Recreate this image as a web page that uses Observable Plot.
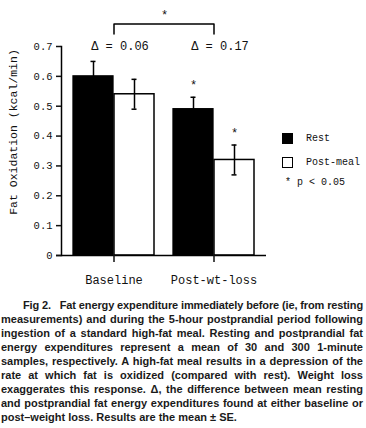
<!DOCTYPE html>
<html><head><meta charset="utf-8">
<script src="https://cdn.jsdelivr.net/npm/d3@7"></script>
<script src="https://cdn.jsdelivr.net/npm/@observablehq/plot@0.6"></script>
<style>
body{margin:0;background:#fff;}
#wrap{position:relative;width:366px;height:428px;overflow:hidden;background:#fff;}
#chart{position:absolute;left:0;top:0;}
.leg{position:absolute;font-family:"Liberation Mono",monospace;font-size:10px;color:#111;line-height:10px;white-space:nowrap;}
.sw{position:absolute;width:11px;height:11px;box-sizing:border-box;border:1.5px solid #000;}
#cap{position:absolute;left:1px;top:298px;width:362px;font-family:"Liberation Sans",Arial,sans-serif;font-weight:bold;font-size:11px;line-height:14px;color:#1a1a1a;}
#cap div{white-space:pre;height:14px;}
</style></head><body>
<div id="wrap"><div id="chart"></div><div id="legend"></div><div id="cap"></div></div>
<script>
// ---- data ----
const groups = ["Baseline", "Post-wt-loss"];
const seriesNames = ["Rest", "Post-meal"];
const restMean = [0.60, 0.49];
const restSE = [0.05, 0.04];
const mealMean = [0.54, 0.32];
const mealSE = [0.05, 0.05];
const deltas = [0.06, 0.17];
const yTicks = [0, 0.1, 0.2, 0.3, 0.4, 0.5, 0.6, 0.7];
const yLabel = "Fat Oxidation (kcal/min)";
const sigNote = "* p < 0.05";
const captionLines = [
  "Fig 2.   Fat energy expenditure immediately before (ie, from resting",
  "measurements) and during the 5-hour postprandial period following",
  "ingestion of a standard high-fat meal. Resting and postprandial fat",
  "energy expenditures represent a mean of 30 and 300 1-minute",
  "samples, respectively. A high-fat meal results in a depression of the",
  "rate at which fat is oxidized (compared with rest). Weight loss",
  "exaggerates this response. \u0394, the difference between mean resting",
  "and postprandial fat energy expenditures found at either baseline or",
  "post\u2013weight loss. Results are the mean \u00b1 SE."
];

// ---- layout ----
const W = 366, H = 292, ML = 61, MR = 100, MT = 46, MB = 37;
const PI = 0.188, PO = 0.109;
const step = (W - ML - MR) / (groups.length - PI + 2 * PO);
const B = step * (1 - PI);
const CAP = 6;

const restData = groups.map((g, i) => ({group: g, series: seriesNames[0], mean: restMean[i], se: restSE[i]}));
const mealData = groups.map((g, i) => ({group: g, series: seriesNames[1], mean: mealMean[i], se: mealSE[i]}));
const deltaData = groups.map((g, i) => ({group: g, delta: deltas[i]}));
// significance markers (p < 0.05) over post-weight-loss bars
const sigRest = restData.filter(d => d.group === "Post-wt-loss");
const sigMeal = mealData.filter(d => d.group === "Post-wt-loss");
const bracket = [
  {group: groups[0], y: 0.742}, {group: groups[0], y: 0.775},
  {group: groups[1], y: 0.775}, {group: groups[1], y: 0.742}
];
const mono = '"Liberation Mono", "DejaVu Sans Mono", monospace';

const chart = Plot.plot({
  width: W, height: H,
  marginLeft: ML, marginRight: MR, marginTop: MT, marginBottom: MB,
  style: {fontFamily: mono, color: "#111", background: "#fff", overflow: "visible"},
  x: {domain: groups, paddingInner: PI, paddingOuter: PO, align: 0.5, label: null},
  y: {domain: [0, 0.7], label: null},
  marks: [
    Plot.barY(restData, {x: "group", y: "mean", fill: "#000", stroke: "#000", strokeWidth: 1.3, insetRight: B / 2}),
    Plot.barY(mealData, {x: "group", y: "mean", fill: "#fff", stroke: "#000", strokeWidth: 1.5, insetLeft: B / 2}),
    // error bars
    Plot.ruleX(restData, {x: "group", y1: d => d.mean - d.se, y2: d => d.mean + d.se, dx: -B / 4, stroke: "#000", strokeWidth: 1.5}),
    Plot.tickY(restData, {x: "group", y: d => d.mean + d.se, insetLeft: B / 4 - CAP / 2, insetRight: 3 * B / 4 - CAP / 2, stroke: "#000", strokeWidth: 1.5}),
    Plot.ruleX(mealData, {x: "group", y1: d => d.mean - d.se, y2: d => d.mean + d.se, dx: B / 4, stroke: "#000", strokeWidth: 1.5}),
    Plot.tickY(mealData, {x: "group", y: d => d.mean + d.se, insetLeft: 3 * B / 4 - CAP / 2, insetRight: B / 4 - CAP / 2, stroke: "#000", strokeWidth: 1.5}),
    Plot.tickY(mealData, {x: "group", y: d => d.mean - d.se, insetLeft: 3 * B / 4 - CAP / 2, insetRight: B / 4 - CAP / 2, stroke: "#000", strokeWidth: 1.5}),
    // axes
    Plot.ruleY([0], {stroke: "#000", strokeWidth: 1.5, insetLeft: -5}),
    Plot.frame({anchor: "left", stroke: "#000", strokeWidth: 1.5}),
    Plot.axisY({ticks: yTicks, tickFormat: d => d === 0 ? "0" : d.toFixed(1), tickSize: 5, tickPadding: 4, fontSize: 10.5, strokeWidth: 1.5, label: null}),
    Plot.axisX({tickSize: 7, tickPadding: 13, fontSize: 12, strokeWidth: 1.5, label: null}),
    Plot.text([yLabel], {frameAnchor: "left", textAnchor: "middle", rotate: -90, dx: -48, dy: -19, fontSize: 11.5}),
    // annotations
    Plot.text(deltaData, {x: "group", y: () => 0.7, text: d => "\u0394 = " + d.delta.toFixed(2), dx: 6, fontSize: 12}),
    Plot.text(sigRest, {x: "group", y: d => d.mean + d.se + 0.05, text: () => "*", dx: -B / 4, dy: 3, fontSize: 12}),
    Plot.text(sigMeal, {x: "group", y: d => d.mean + d.se + 0.05, text: () => "*", dx: B / 4, dy: 3, fontSize: 12}),
    Plot.line(bracket, {x: "group", y: "y", stroke: "#000", strokeWidth: 1.5}),
    Plot.text(["*"], {x: () => groups[0], y: () => 0.815, dx: step / 2, dy: 3, fontSize: 12})
  ]
});
document.getElementById("chart").appendChild(chart);

// ---- legend ----
const leg = document.getElementById("legend");
const legItems = [
  {name: seriesNames[0], fill: "#000", top: 133},
  {name: seriesNames[1], fill: "#fff", top: 157}
];
legItems.forEach(it => {
  const sw = document.createElement("div");
  sw.className = "sw";
  sw.style.left = "282px"; sw.style.top = it.top + "px"; sw.style.background = it.fill;
  leg.appendChild(sw);
  const t = document.createElement("div");
  t.className = "leg"; t.textContent = it.name;
  t.style.left = "306px"; t.style.top = (it.top + 1) + "px";
  leg.appendChild(t);
});
const note = document.createElement("div");
note.className = "leg"; note.textContent = sigNote;
note.style.left = "285px"; note.style.top = "178px";
leg.appendChild(note);

// ---- caption (justified lines) ----
const cap = document.getElementById("cap");
const CAPW = 362;
captionLines.forEach((line, i) => {
  const div = document.createElement("div");
  const span = document.createElement("span");
  span.textContent = line;
  div.appendChild(span);
  cap.appendChild(div);
  const indent = i === 0 ? 22 : 0;
  div.style.paddingLeft = indent + "px";
  if (i < captionLines.length - 1) {
    const avail = CAPW - indent;
    const w = span.getBoundingClientRect().width;
    const spaces = (line.match(/ /g) || []).length;
    const extra = avail - w;
    if (extra >= 0) span.style.wordSpacing = (extra / spaces) + "px";
    else span.style.letterSpacing = (extra / line.length) + "px";
  }
});
</script>
</body></html>
